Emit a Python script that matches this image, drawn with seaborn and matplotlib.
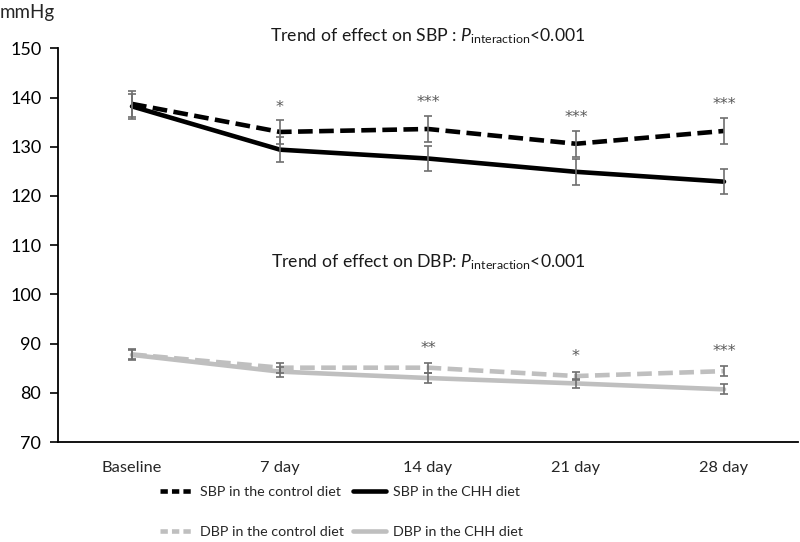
import numpy as np
import pandas as pd
import matplotlib
matplotlib.use("Agg")
import matplotlib.pyplot as plt
import seaborn as sns
from matplotlib.lines import Line2D

# ---- data ----
timepoints = ["Baseline", "7 day", "14 day", "21 day", "28 day"]
sbp_control = [138.7, 133.0, 133.6, 130.6, 133.2]
sbp_chh = [138.2, 129.4, 127.6, 124.9, 122.9]
sbp_control_se = [2.6, 2.5, 2.6, 2.6, 2.6]
sbp_chh_se = [2.6, 2.6, 2.6, 2.6, 2.6]
dbp_control = [87.8, 85.1, 85.1, 83.4, 84.4]
dbp_chh = [87.7, 84.3, 83.0, 81.9, 80.7]
dbp_control_se = [1.0, 1.0, 1.0, 0.9, 1.0]
dbp_chh_se = [1.0, 1.0, 1.0, 1.0, 1.0]
sbp_stars = ["", "*", "***", "***", "***"]
sbp_star_y = [None, 138.0, 139.0, 136.0, 138.6]
dbp_stars = ["", "", "**", "*", "***"]
dbp_star_y = [None, None, 88.9, 87.3, 88.3]
series_names = ["SBP in the control diet", "SBP in the CHH diet",
                "DBP in the control diet", "DBP in the CHH diet"]

sns.set_theme(style="white")
plt.rcParams["font.family"] = ["Lato", "DejaVu Sans"]
plt.rcParams["mathtext.fontset"] = "custom"
plt.rcParams["mathtext.rm"] = "Lato"
plt.rcParams["mathtext.it"] = "Lato:italic"

rows = []
for name, vals in zip(series_names, [sbp_control, sbp_chh, dbp_control, dbp_chh]):
    for t, v in zip(timepoints, vals):
        rows.append({"time": t, "value": v, "series": name})
df = pd.DataFrame(rows)

fig = plt.figure(figsize=(8.0, 5.42), dpi=100)
ax = fig.add_axes([0.0725, 0.1845, 0.925, 0.7264])

palette = {series_names[0]: "black", series_names[1]: "black",
           series_names[2]: "#bfbfbf", series_names[3]: "#bfbfbf"}
dashes = {series_names[0]: (3.2, 1.4), series_names[1]: "",
          series_names[2]: (3.2, 1.4), series_names[3]: ""}

x = np.arange(len(timepoints))
for vals, se in [(sbp_control, sbp_control_se), (sbp_chh, sbp_chh_se),
                 (dbp_control, dbp_control_se), (dbp_chh, dbp_chh_se)]:
    ax.errorbar(x, vals, yerr=se, fmt="none", ecolor="#6e6e6e",
                elinewidth=1.2, capsize=3, capthick=1.2, zorder=3)

sns.lineplot(data=df, x="time", y="value", hue="series", style="series",
             palette=palette, dashes=dashes, linewidth=3.3, ax=ax,
             legend=False, sort=False, zorder=2)

star_font = ["DejaVu Sans"]
for i, (s, yv) in enumerate(zip(sbp_stars, sbp_star_y)):
    if s:
        ax.text(i, yv, s, ha="center", va="center", fontsize=11.5,
                color="#595959", family=star_font)
for i, (s, yv) in enumerate(zip(dbp_stars, dbp_star_y)):
    if s:
        ax.text(i, yv, s, ha="center", va="center", fontsize=11.5,
                color="#595959", family=star_font)

ax.text(2.0, 152.5, r"Trend of effect on SBP : $\mathit{P}_{\mathrm{interaction}}$<0.001",
        ha="center", va="center", fontsize=12.7, color="#1a1a1a")
ax.text(2.0, 106.5, r"Trend of effect on DBP: $\mathit{P}_{\mathrm{interaction}}$<0.001",
        ha="center", va="center", fontsize=12.7, color="#1a1a1a")

ax.set_xlim(-0.5, 4.5)
ax.set_ylim(70, 150)
ax.set_yticks(range(70, 151, 10))
ax.set_xlabel("")
ax.set_ylabel("")
ax.tick_params(axis="y", left=True, length=6, width=1.2, labelsize=13,
               colors="black", pad=6)
ax.tick_params(axis="x", bottom=False, labelsize=11.8, pad=8)
for sp in ["top", "right"]:
    ax.spines[sp].set_visible(False)
for sp in ["left", "bottom"]:
    ax.spines[sp].set_color("black")
    ax.spines[sp].set_linewidth(1.3)

fig.text(0.0, 0.977, "mmHg", ha="left", va="center", fontsize=13.5)

handles = [
    Line2D([], [], color="black", lw=3.3, dashes=(1.6, 0.9)),
    Line2D([], [], color="#bfbfbf", lw=3.3, dashes=(1.6, 0.9)),
    Line2D([], [], color="black", lw=3.3),
    Line2D([], [], color="#bfbfbf", lw=3.3),
]
labels = [series_names[0], series_names[2], series_names[1], series_names[3]]
fig.legend(handles, labels, loc="upper left", bbox_to_anchor=(0.2, 0.103),
           ncol=2, frameon=False, fontsize=10.3, handlelength=2.3,
           handletextpad=0.5, columnspacing=0.6, labelspacing=1.95,
           borderpad=0, borderaxespad=0)

fig.savefig("out.png", dpi=100)
